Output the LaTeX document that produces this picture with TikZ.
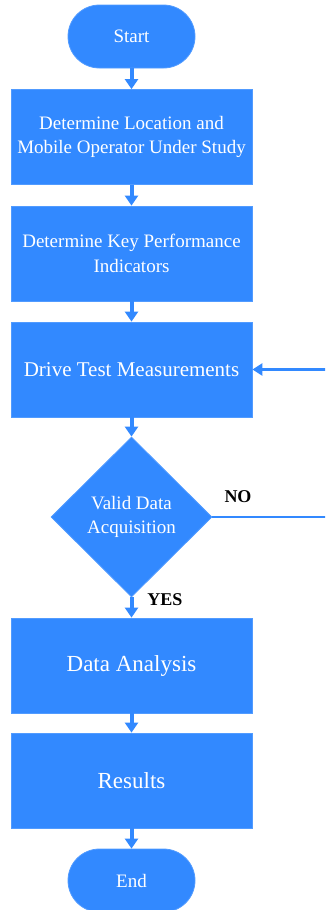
\documentclass[tikz,border=0pt]{standalone}
\usepackage{fontspec}
\setmainfont{Liberation Serif}
\usetikzlibrary{shapes.geometric,arrows.meta}
\definecolor{flowblue}{RGB}{50,137,255}
\tikzset{
  base/.style={fill=flowblue, draw=flowblue!85!white, line width=0.8pt, text=white, align=center, inner sep=0pt},
  procbox/.style={base, rectangle, minimum width=241pt, minimum height=95pt, font=\fontsize{19}{24.5}\selectfont},
  bigbox/.style={procbox, font=\fontsize{23}{28}\selectfont},
  term/.style={base, rectangle, rounded corners=31.5pt, minimum width=127pt, minimum height=63pt, font=\fontsize{19}{24}\selectfont},
  decision/.style={base, diamond, aspect=1, minimum width=161pt, minimum height=160pt, font=\fontsize{19}{24.5}\selectfont},
  flowarrow/.style={draw=flowblue, line width=4pt, -{Triangle[width=13pt,length=10pt]}},
  backline/.style={draw=flowblue, line width=2.5pt},
  backarrow/.style={backline, -{Triangle[width=12pt,length=10pt]}},
  answer/.style={font=\fontsize{18}{20}\selectfont\bfseries, text=black, inner sep=0pt}
}
\begin{document}
\begin{tikzpicture}[x=1pt,y=-1pt]
\useasboundingbox (0,0) rectangle (325,910);
\clip (0,0) rectangle (325,910);
\node[term] (start) at (131.5,36.5) {Start};
\node[procbox] (b1) at (131.5,137) {Determine Location and\\Mobile Operator Under Study};
\node[procbox] (b2) at (131.5,253.5) {Determine Key Performance\\Indicators};
\node[procbox, font=\fontsize{21}{26}\selectfont] (b3) at (131.5,369.5) {Drive Test Measurements};
\node[decision] (dec) at (131.5,517) {Valid Data\\Acquisition};
\node[bigbox] (b5) at (131.5,665.5) {Data Analysis};
\node[bigbox] (b6) at (131.5,780.5) {Results};
\node[term] (end) at (131.5,880.5) {End};
\coordinate (noend) at (326,517);
\coordinate (backstart) at (326,369.5);
\node[answer] (no) at (238,497) {NO};
\node[answer] (yes) at (165,600) {YES};
\draw[flowarrow] (start) -- (b1);
\draw[flowarrow] (b1) -- (b2);
\draw[flowarrow] (b2) -- (b3);
\draw[flowarrow] (b3) -- (dec);
\draw[flowarrow] (dec) -- (b5);
\draw[flowarrow] (b5) -- (b6);
\draw[flowarrow] (b6) -- (end);
\draw[backline] (dec.east) -- (noend);
\draw[backarrow] (backstart) -- (b3.east);
\end{tikzpicture}
\end{document}
